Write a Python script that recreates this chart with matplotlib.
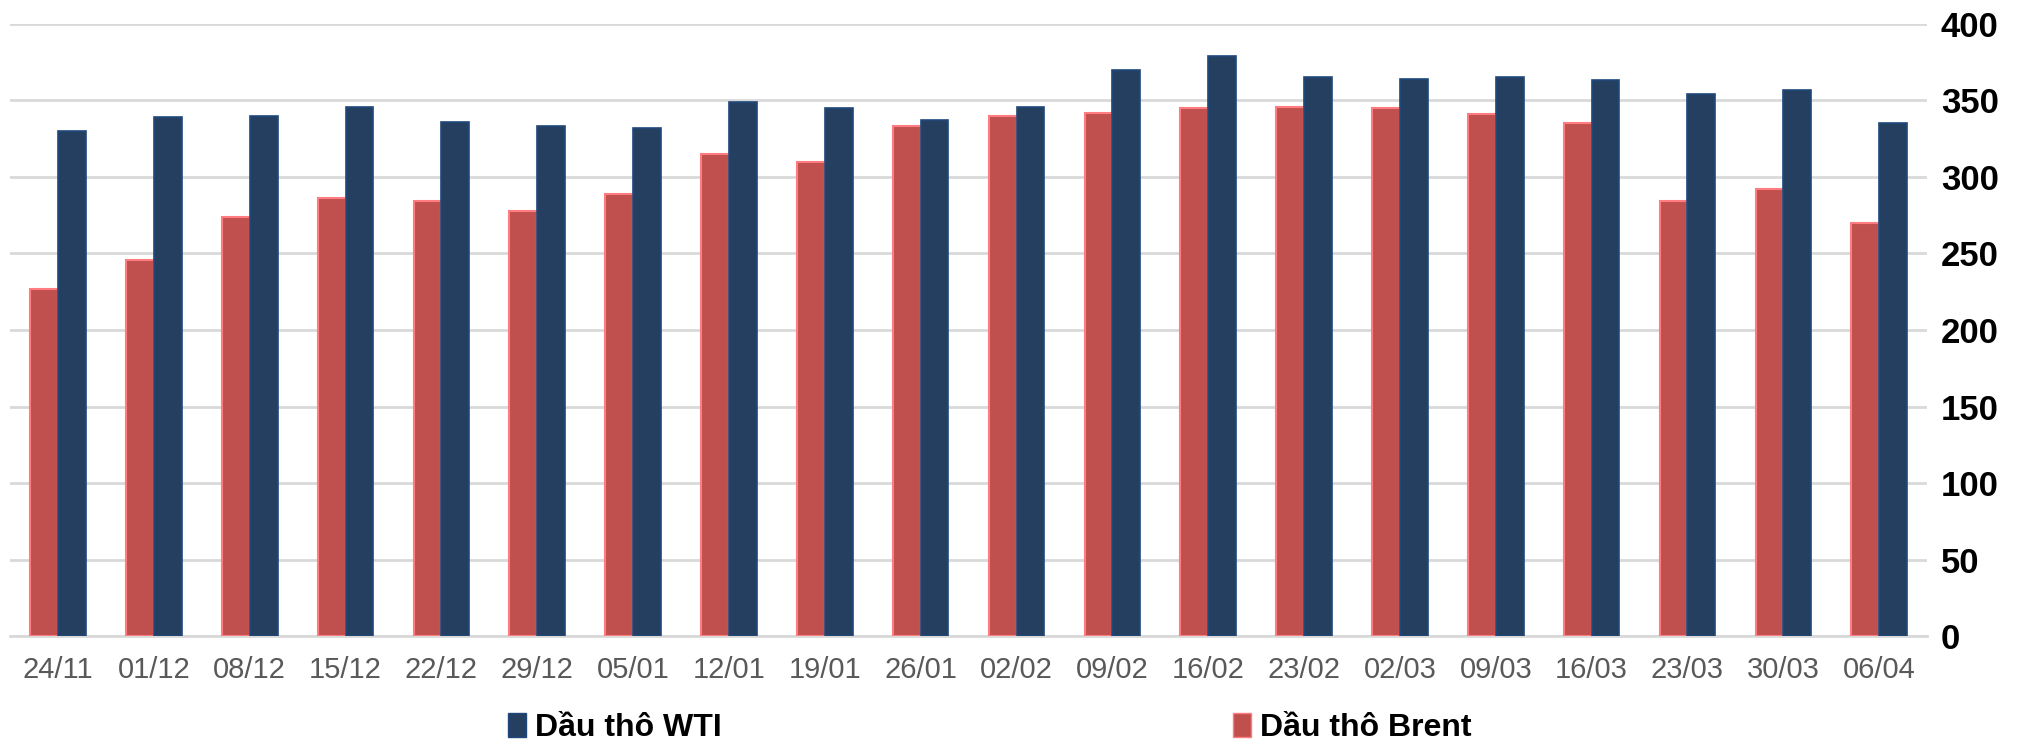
import matplotlib.pyplot as plt
from matplotlib.patches import Patch
import numpy as np

plt.rcParams['font.family'] = ['Liberation Sans', 'DejaVu Sans']

weeks = ['24/11', '01/12', '08/12', '15/12', '22/12', '29/12', '05/01', '12/01',
         '19/01', '26/01', '02/02', '09/02', '16/02', '23/02', '02/03', '09/03',
         '16/03', '23/03', '30/03', '06/04']
wti = [330, 339, 340, 346, 336, 333, 332, 349, 345, 337, 346, 370, 379, 365,
       364, 365, 363, 354, 357, 335]
brent = [227, 246, 274, 286, 284, 278, 289, 315, 310, 333, 340, 342, 345, 346,
         345, 341, 335, 284, 292, 270]

wti_color = '#243F60'
brent_color = '#C0504D'

fig = plt.figure(figsize=(20.2, 7.45), dpi=100)
ax = fig.add_axes([0.005, 0.146, 0.949, 0.822])

x = np.arange(len(weeks))
w = 0.29
ax.bar(x - w / 2, brent, width=w, color=brent_color, edgecolor='#FF7C80', linewidth=1.5, zorder=3)
ax.bar(x + w / 2, wti, width=w, color=wti_color, edgecolor='#1F497D', linewidth=1.2, zorder=3)

ax.set_xlim(-0.5, len(weeks) - 0.5)
ax.set_ylim(0, 400)
ax.set_yticks(range(0, 401, 50))
ax.yaxis.tick_right()
ax.grid(axis='y', color='#D9D9D9', linewidth=2, zorder=0)
for side in ['top', 'left', 'right']:
    ax.spines[side].set_visible(False)
ax.spines['bottom'].set_color('#D9D9D9')
ax.spines['bottom'].set_linewidth(2)

ax.set_xticks(x)
ax.set_xticklabels(weeks, fontsize=21, color='#595959')
ax.tick_params(axis='x', length=0, pad=14)
ax.tick_params(axis='y', length=0, pad=10, labelsize=25)
for lbl in ax.get_yticklabels():
    lbl.set_fontweight('bold')
    lbl.set_horizontalalignment('left')

handles = [Patch(facecolor=wti_color, edgecolor='#1F497D'),
           Patch(facecolor=brent_color, edgecolor='#FF7C80')]
fig.legend(handles, ['Dầu thô WTI', 'Dầu thô Brent'], loc='center',
           bbox_to_anchor=(0.49, 0.023), ncol=2, frameon=False,
           prop={'size': 23, 'weight': 'bold'}, handlelength=0.55, handleheight=0.8,
           handletextpad=0.3, columnspacing=16)

fig.savefig('out.png', dpi=100)
